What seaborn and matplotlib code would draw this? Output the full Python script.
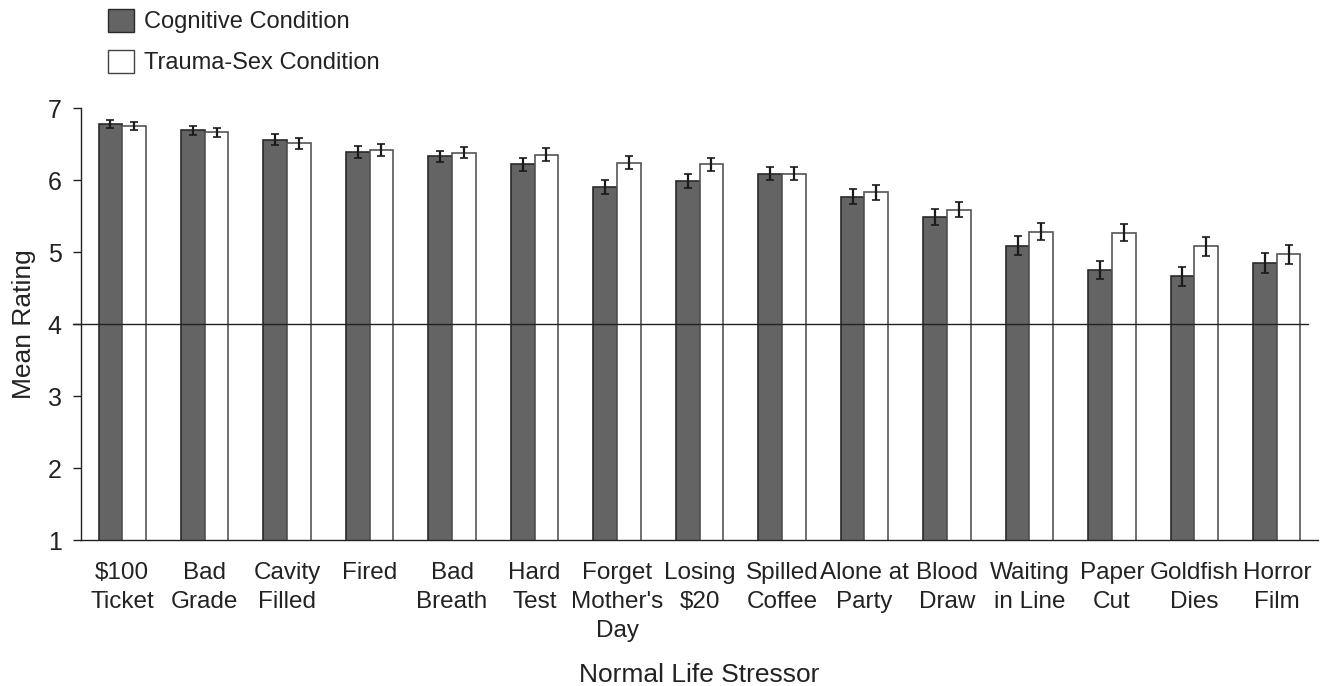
import matplotlib
matplotlib.use("Agg")
import matplotlib.pyplot as plt
import seaborn as sb
import pandas as pd
import numpy as np

STRESSORS = ["$100\nTicket", "Bad\nGrade", "Cavity\nFilled", "Fired", "Bad\nBreath",
             "Hard\nTest", "Forget\nMother's\nDay", "Losing\n$20", "Spilled\nCoffee",
             "Alone at\nParty", "Blood\nDraw", "Waiting\nin Line", "Paper\nCut",
             "Goldfish\nDies", "Horror\nFilm"]
CONDITIONS = ["Cognitive Condition", "Trauma-Sex Condition"]
COG_MEAN = [6.78, 6.69, 6.56, 6.39, 6.33, 6.22, 5.90, 5.99, 6.09, 5.77, 5.49, 5.09, 4.75, 4.66, 4.85]
TRAUMA_MEAN = [6.75, 6.66, 6.51, 6.42, 6.38, 6.35, 6.24, 6.22, 6.09, 5.83, 5.59, 5.28, 5.27, 5.08, 4.97]
COG_ERR = [0.055, 0.065, 0.072, 0.08, 0.074, 0.09, 0.10, 0.10, 0.095, 0.11, 0.11, 0.13, 0.12, 0.13, 0.14]
TRAUMA_ERR = [0.053, 0.067, 0.074, 0.08, 0.079, 0.09, 0.09, 0.09, 0.09, 0.105, 0.11, 0.12, 0.115, 0.13, 0.13]

df = pd.DataFrame({
    "stressor": STRESSORS * 2,
    "condition": [CONDITIONS[0]] * len(STRESSORS) + [CONDITIONS[1]] * len(STRESSORS),
    "rating": COG_MEAN + TRAUMA_MEAN,
})

sb.set_style("white")
plt.rcParams["font.family"] = ["Liberation Sans", "DejaVu Sans"]
plt.rcParams["text.parse_math"] = False
plt.rcParams["text.color"] = "#222222"
plt.rcParams["axes.labelcolor"] = "#222222"
plt.rcParams["xtick.color"] = "#222222"
plt.rcParams["ytick.color"] = "#222222"

fig = plt.figure(figsize=(13.22, 6.86), dpi=100)
ax = fig.add_axes([81 / 1322, 1 - 540 / 686, 1237 / 1322, 432 / 686])

sb.barplot(data=df, x="stressor", y="rating", hue="condition", order=STRESSORS,
           hue_order=CONDITIONS, palette=["#646464", "#ffffff"], width=0.575, gap=0,
           errorbar=None, ax=ax, legend=False)

edges = ["#2a2a2a", "#555555"]
errs = [COG_ERR, TRAUMA_ERR]
means = [COG_MEAN, TRAUMA_MEAN]
bar_conts = list(ax.containers)
for k, cont in enumerate(bar_conts):
    xs = []
    for p in cont.patches:
        p.set_edgecolor(edges[k])
        p.set_linewidth(1.2)
        xs.append(p.get_x() + p.get_width() / 2)
    ax.errorbar(xs, means[k], yerr=errs[k], fmt="none", ecolor="#1a1a1a",
                elinewidth=1.6, capsize=3, capthick=1.2, zorder=5)

ax.set_ylim(1, 7)
ax.set_xlim(-0.5, len(STRESSORS) - 0.5)
ax.set_yticks([1, 2, 3, 4, 5, 6, 7])
ax.set_xticks(np.arange(len(STRESSORS)))
ax.set_xticklabels(STRESSORS, fontsize=17.5, linespacing=1.4)
ax.set_xticks(np.arange(-0.5, len(STRESSORS)), minor=True)
ax.tick_params(axis="x", which="major", length=0, pad=16)
ax.tick_params(axis="x", which="minor", length=6, width=1, direction="out", color="#222222")
ax.tick_params(axis="y", length=6, width=1, direction="out", labelsize=18, pad=8, left=True)

for s in ["top", "right"]:
    ax.spines[s].set_visible(False)
for s in ["left", "bottom"]:
    ax.spines[s].set_color("#222222")
    ax.spines[s].set_linewidth(1)

ax.axhline(4, xmin=-0.0065, xmax=0.992, color="#222222", lw=1, clip_on=False, zorder=4)

ax.set_ylabel("Mean Rating", fontsize=19, labelpad=8)
ax.set_xlabel("Normal Life Stressor", fontsize=19, labelpad=15)

handles = [plt.Rectangle((0, 0), 1, 1, facecolor="#646464", edgecolor="#2a2a2a", lw=1),
           plt.Rectangle((0, 0), 1, 1, facecolor="#ffffff", edgecolor="#444444", lw=1)]
fig.legend(handles, CONDITIONS, loc="upper left", bbox_to_anchor=(108 / 1322, 1 - 9 / 686),
           frameon=False, fontsize=17, handlelength=1.1, handleheight=1.1,
           handletextpad=0.42, labelspacing=0.7, borderpad=0, borderaxespad=0)

fig.savefig("out.png", dpi=100)
